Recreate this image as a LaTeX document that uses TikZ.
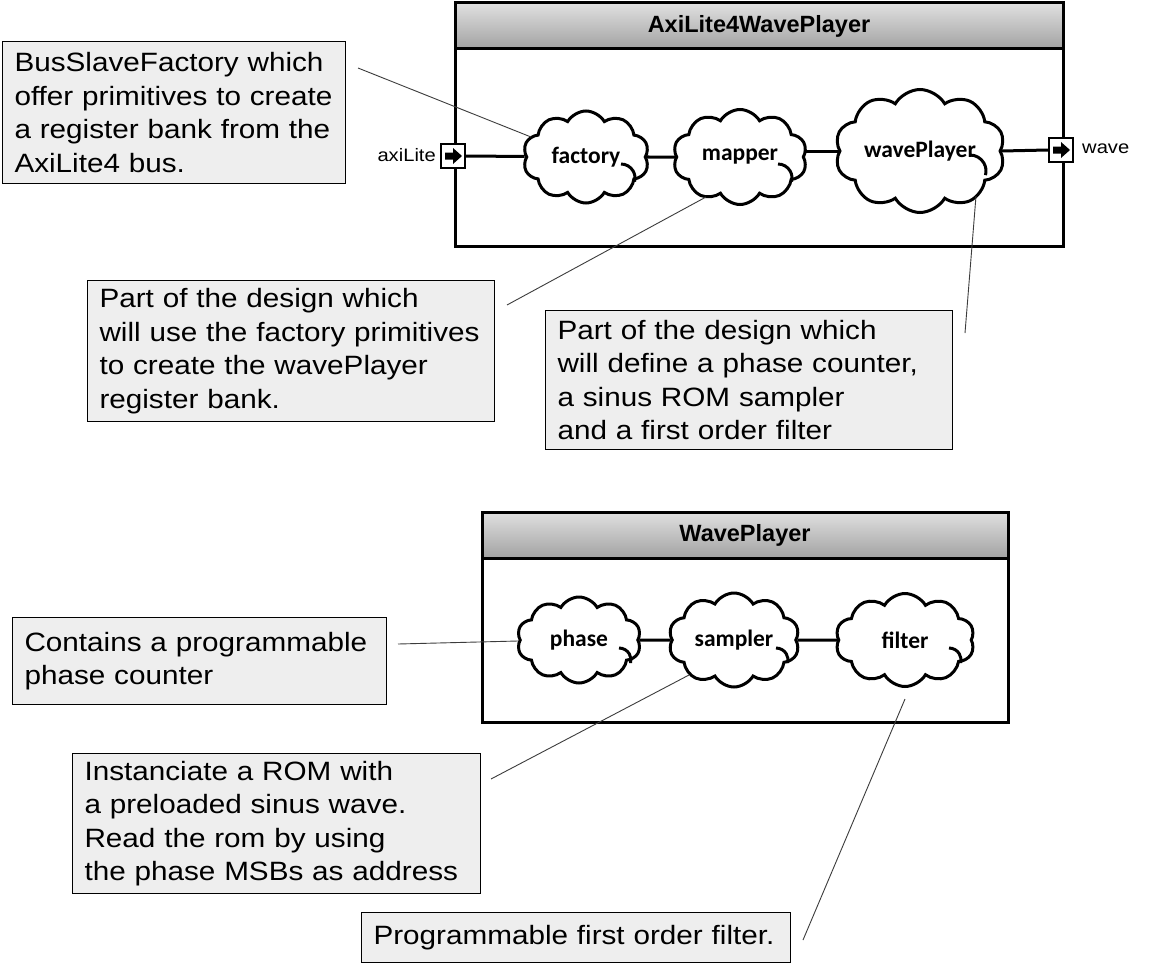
\documentclass[tikz,border=0pt]{standalone}
\usepackage{fontspec}
\setmainfont{Liberation Sans}
\newfontfamily\callfont[FakeStretch=1.12]{Liberation Sans}
\newfontfamily\cloudfont{Carlito}
\usetikzlibrary{shapes.symbols}
\definecolor{callfill}{RGB}{238,238,238}
\definecolor{hdtop}{RGB}{224,224,224}
\definecolor{hdbot}{RGB}{162,162,162}
\definecolor{leadc}{RGB}{60,60,60}
\tikzset{
  frame/.style={draw=black,line width=3pt},
  cloudnode/.style={cloud, cloud puffs=10, cloud puff arc=120, cloud ignores aspect,
    draw=black, line width=3pt, fill=white, inner sep=0pt,
    font=\cloudfont\bfseries\fontsize{23.5}{27}\selectfont},
  curl/.style={line width=3pt},
  callout/.style={draw=black, line width=1pt, fill=callfill, align=left,
    inner xsep=12pt, inner ysep=0pt, anchor=north west,
    font=\callfont\fontsize{26.5}{33.5}\selectfont},
  title/.style={font=\bfseries\fontsize{23.5}{27}\selectfont},
  portlabel/.style={font=\callfont\fontsize{18}{22}\selectfont, inner sep=0pt},
  wire/.style={line width=3pt},
  leader/.style={line width=0.9pt, draw=leadc},
  port/.style={draw=black, line width=2pt, fill=white, minimum size=24pt, inner sep=0pt},
}
\begin{document}
\begin{tikzpicture}[x=1pt,y=-1pt]
\fill[white] (0,0) rectangle (1172,963);
\useasboundingbox (0,0) rectangle (1172,963);

% ---------- top box ----------
\shade[top color=hdtop,bottom color=hdbot] (455,3) rectangle (1063,49);
\draw[frame] (455,3) rectangle (1063,246);
\draw[frame] (455,49) -- (1063,49);
\node[title] (t1) at (759,26) {AxiLite4WavePlayer};

\node[cloudnode, minimum width=126pt, minimum height=92pt] (factory) at (586,157) {factory};
\node[cloudnode, minimum width=134pt, minimum height=95pt] (mapper) at (740,157) {mapper};
\node[cloudnode, minimum width=170pt, minimum height=123pt] (wavePlayer) at (920,151) {wavePlayer};
\draw[curl] ([shift={(35,7)}]factory.center) arc[start angle=-90, end angle=15, radius=14];
\draw[curl] ([shift={(38,7)}]mapper.center) arc[start angle=-90, end angle=15, radius=14];
\draw[curl] ([shift={(50,4)}]wavePlayer.center) arc[start angle=-90, end angle=15, radius=16];

\node[port] (pA) at (453,156) {};
\fill[shift={(pA.center)}] (-8,-3.5) -- (0,-3.5) -- (0,-8) -- (9,0) -- (0,8) -- (0,3.5) -- (-8,3.5) -- cycle;
\node[port] (pW) at (1061,150) {};
\fill[shift={(pW.center)}] (-8,-3.5) -- (0,-3.5) -- (0,-8) -- (9,0) -- (0,8) -- (0,3.5) -- (-8,3.5) -- cycle;
\node[portlabel, anchor=east] (lA) at (436,155) {axiLite};
\node[portlabel, anchor=west] (lW) at (1082,149) {wave};

\draw[wire] (pA.east) -- (factory);
\draw[wire] (factory) -- (mapper);
\draw[wire] (mapper.east |- wavePlayer.west) -- (wavePlayer.west);
\draw[wire] (wavePlayer.east) -- (pW.west);

% ---------- bottom box ----------
\shade[top color=hdtop,bottom color=hdbot] (482,512) rectangle (1008,558);
\draw[frame] (482,512) rectangle (1008,722);
\draw[frame] (482,558) -- (1008,558);
\node[title] (t2) at (745,535) {WavePlayer};

\node[cloudnode, minimum width=124pt, minimum height=86pt] (phase) at (579,640) {phase};
\node[cloudnode, minimum width=131pt, minimum height=94pt] (sampler) at (734,640) {sampler};
\node[cloudnode, minimum width=139pt, minimum height=93pt] (filter) at (905,640) {filter};
\draw[curl] ([shift={(40,8)}]phase.center) arc[start angle=-90, end angle=15, radius=12];
\draw[curl] ([shift={(42,8)}]sampler.center) arc[start angle=-90, end angle=15, radius=12];
\draw[curl] ([shift={(44,8)}]filter.center) arc[start angle=-90, end angle=15, radius=12];

\draw[wire] (phase) -- (sampler);
\draw[wire] (sampler) -- (filter);

% ---------- callouts ----------
\node[callout, text width=319pt, minimum height=142pt] (c1) at (2,41)
  {\mbox{BusSlaveFactory which}\\\mbox{offer primitives to create}\\\mbox{a register bank from the}\\\mbox{AxiLite4 bus.}};
\node[callout, text width=383pt, minimum height=141pt] (c2) at (87,280)
  {\mbox{Part of the design which}\\\mbox{will use the factory primitives}\\\mbox{to create the wavePlayer}\\\mbox{register bank.}};
\node[callout, text width=383pt, minimum height=139pt] (c3) at (545,310)
  {\mbox{Part of the design which}\\\mbox{will define a phase counter,}\\\mbox{a sinus ROM sampler}\\\mbox{and a first order filter}};
\node[callout, text width=350pt, minimum height=87pt] (c4) at (12,617)
  {\mbox{Contains a programmable}\\\mbox{phase counter}};
\node[callout, text width=384pt, minimum height=140pt] (c5) at (72,753)
  {\mbox{Instanciate a ROM with}\\\mbox{a preloaded sinus wave.}\\\mbox{Read the rom by using}\\\mbox{the phase MSBs as address}};
\node[callout, text width=405pt, minimum height=50pt] (c6) at (361,912)
  {\mbox{Programmable first order filter.}};

% ---------- leader lines ----------
\coordinate (l1a) at (358,68);  \coordinate (l1b) at (531,137);
\coordinate (l2a) at (507,305); \coordinate (l2b) at (706,197);
\coordinate (l3a) at (965,333); \coordinate (l3b) at (976,196);
\coordinate (l4a) at (398,644); \coordinate (l4b) at (518,641);
\coordinate (l5a) at (491,779); \coordinate (l5b) at (689,675);
\coordinate (l6a) at (803,940); \coordinate (l6b) at (905,699);
\draw[leader] (l1a) -- (l1b);
\draw[leader] (l2a) -- (l2b);
\draw[leader] (l3a) -- (l3b);
\draw[leader] (l4a) -- (l4b);
\draw[leader] (l5a) -- (l5b);
\draw[leader] (l6a) -- (l6b);
\end{tikzpicture}
\end{document}
